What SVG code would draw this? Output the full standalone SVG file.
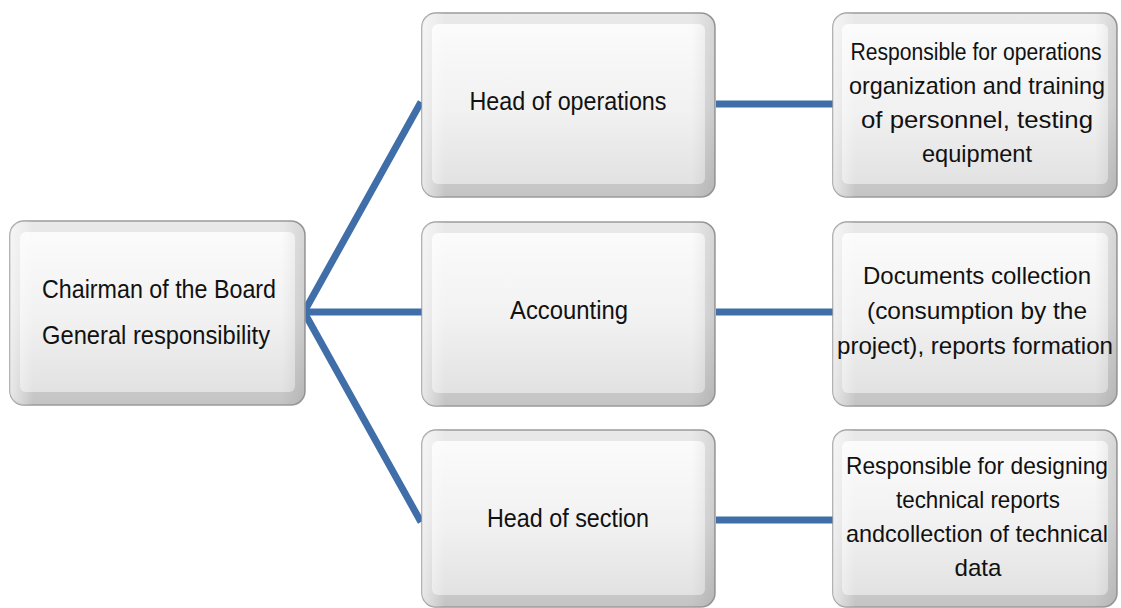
<svg xmlns="http://www.w3.org/2000/svg" width="1121" height="608" viewBox="0 0 1121 608">
<defs>
<linearGradient id="outer" x1="0" y1="0" x2="0" y2="1">
<stop offset="0" stop-color="#e9e9e9"/>
<stop offset="0.5" stop-color="#dedede"/>
<stop offset="1" stop-color="#c4c4c4"/>
</linearGradient>
<linearGradient id="side" x1="0" y1="0" x2="1" y2="0">
<stop offset="0" stop-color="#ffffff" stop-opacity="0.6"/>
<stop offset="0.08" stop-color="#ffffff" stop-opacity="0"/>
<stop offset="0.92" stop-color="#000000" stop-opacity="0"/>
<stop offset="1" stop-color="#000000" stop-opacity="0.08"/>
</linearGradient>
<linearGradient id="inner" x1="0" y1="0" x2="0" y2="1">
<stop offset="0" stop-color="#fbfbfb"/>
<stop offset="0.55" stop-color="#f1f1f1"/>
<stop offset="1" stop-color="#e2e2e2"/>
</linearGradient>
</defs>
<style>
.ob{fill:url(#outer);stroke:#9a9a9a;stroke-width:1.5}
.sd{fill:url(#side);stroke:none}
.ib{fill:url(#inner);stroke:none}
.t{font-family:"Liberation Sans",Arial,sans-serif;fill:#111;text-anchor:middle}
.lg{font-size:25px}
.md{font-size:25px}
.sm{font-size:24px}
.c{fill:none;stroke:#3f6ea8;stroke-width:7;stroke-linejoin:miter}
</style>
<rect width="1121" height="608" fill="#ffffff"/>
<g id="connectors">
<path class="c" d="M421,102 L304,312 L421,522"/>
<path class="c" d="M304,312 L422,312"/>
<path class="c" d="M716,104 L833,104"/>
<path class="c" d="M716,312 L833,312"/>
<path class="c" d="M716,520 L833,520"/>
</g>
<g id="chairman">
<rect class="ob" x="10" y="221" width="295" height="184" rx="14"/>
<rect class="ib" x="20" y="232" width="275" height="160" rx="6"/>
<rect class="sd" x="10" y="221" width="295" height="184" rx="14"/>
<text class="t lg" x="159" y="298" textLength="234" lengthAdjust="spacingAndGlyphs">Chairman of the Board</text>
<text class="t lg" x="156" y="344" textLength="228" lengthAdjust="spacingAndGlyphs">General responsibility</text>
</g>
<g id="head-operations">
<rect class="ob" x="422" y="13" width="293" height="184" rx="14"/>
<rect class="ib" x="432" y="24" width="273" height="160" rx="6"/>
<rect class="sd" x="422" y="13" width="293" height="184" rx="14"/>
<text class="t md" x="568" y="110" textLength="197" lengthAdjust="spacingAndGlyphs">Head of operations</text>
</g>
<g id="accounting">
<rect class="ob" x="422" y="222" width="293" height="184" rx="14"/>
<rect class="ib" x="432" y="233" width="273" height="160" rx="6"/>
<rect class="sd" x="422" y="222" width="293" height="184" rx="14"/>
<text class="t md" x="569" y="319" textLength="118" lengthAdjust="spacingAndGlyphs">Accounting</text>
</g>
<g id="head-section">
<rect class="ob" x="422" y="430" width="293" height="177" rx="14"/>
<rect class="ib" x="432" y="441" width="273" height="154" rx="6"/>
<rect class="sd" x="422" y="430" width="293" height="177" rx="14"/>
<text class="t md" x="568" y="527" textLength="162" lengthAdjust="spacingAndGlyphs">Head of section</text>
</g>
<g id="ops-desc">
<rect class="ob" x="833" y="13" width="284" height="184" rx="14"/>
<rect class="ib" x="842" y="24" width="266" height="160" rx="6"/>
<rect class="sd" x="833" y="13" width="284" height="184" rx="14"/>
<text class="t sm" transform="translate(976,60) scale(0.88,1)" x="0" y="0">Responsible for operations</text>
<text class="t sm" x="977" y="94" textLength="256" lengthAdjust="spacingAndGlyphs">organization and training</text>
<text class="t sm" x="977" y="128" textLength="232" lengthAdjust="spacingAndGlyphs">of personnel, testing</text>
<text class="t sm" x="977" y="162" textLength="110" lengthAdjust="spacingAndGlyphs">equipment</text>
</g>
<g id="accounting-desc">
<rect class="ob" x="833" y="222" width="284" height="184" rx="14"/>
<rect class="ib" x="842" y="233" width="266" height="160" rx="6"/>
<rect class="sd" x="833" y="222" width="284" height="184" rx="14"/>
<text class="t sm" x="977" y="284" textLength="228" lengthAdjust="spacingAndGlyphs">Documents collection</text>
<text class="t sm" x="977" y="319" textLength="220" lengthAdjust="spacingAndGlyphs">(consumption by the</text>
<text class="t sm" x="975" y="354" textLength="276" lengthAdjust="spacingAndGlyphs">project), reports formation</text>
</g>
<g id="section-desc">
<rect class="ob" x="833" y="430" width="284" height="177" rx="14"/>
<rect class="ib" x="842" y="441" width="266" height="154" rx="6"/>
<rect class="sd" x="833" y="430" width="284" height="177" rx="14"/>
<text class="t sm" x="977" y="474" textLength="262" lengthAdjust="spacingAndGlyphs">Responsible for designing</text>
<text class="t sm" x="978" y="508" textLength="164" lengthAdjust="spacingAndGlyphs">technical reports</text>
<text class="t sm" x="977" y="542" textLength="262" lengthAdjust="spacingAndGlyphs">andcollection of technical</text>
<text class="t sm" x="978" y="576" textLength="47" lengthAdjust="spacingAndGlyphs">data</text>
</g>
</svg>
